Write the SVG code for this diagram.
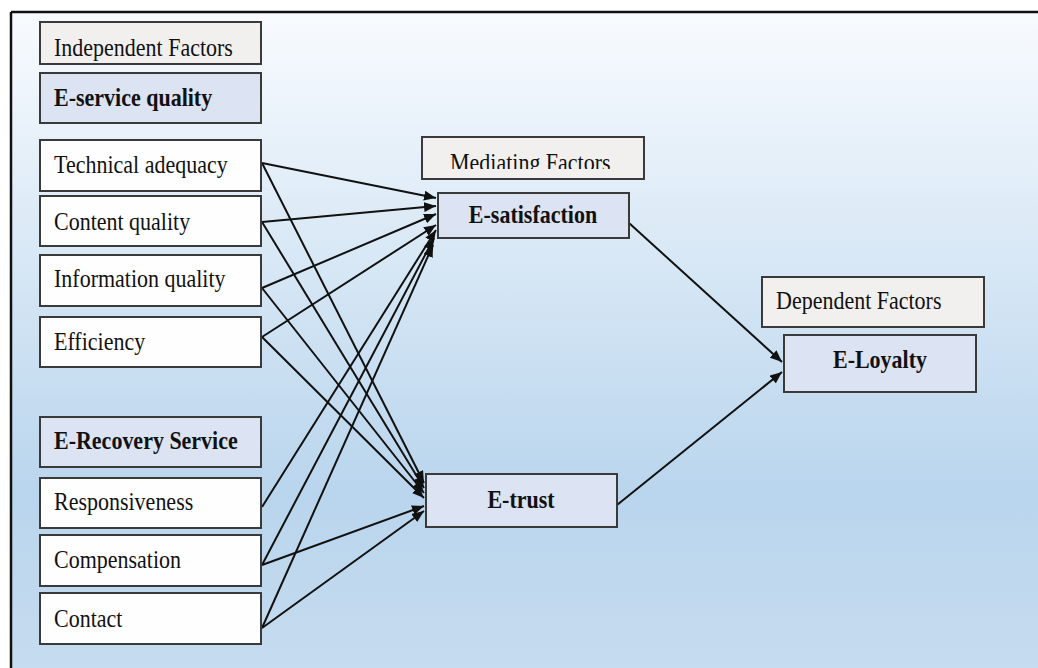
<svg xmlns="http://www.w3.org/2000/svg" width="1038" height="668" viewBox="0 0 1038 668">
<defs>
<linearGradient id="bg" x1="0" y1="0" x2="0" y2="1">
<stop offset="0" stop-color="#f8fbfe"/>
<stop offset="0.72" stop-color="#b9d5ed"/>
<stop offset="1" stop-color="#c7dcef"/>
</linearGradient>
<marker id="ah" viewBox="0 0 12 10" refX="12" refY="5" markerWidth="12" markerHeight="10" markerUnits="userSpaceOnUse" orient="auto">
<path d="M0,0 L12,5 L0,10 Z" fill="#111"/>
</marker>
<clipPath id="medclip"><rect x="422" y="137" width="222" height="32"/></clipPath>
</defs>
<style>
.box{stroke:#3a3a3a;stroke-width:2}
.hdr{fill:#f2f0ee}
.grp{fill:#dce3f2}
.item{fill:#fefefe}
.t{font-family:"Liberation Serif","Times New Roman",serif;font-size:22px;fill:#111}
.b{font-weight:bold}
.c{text-anchor:middle}
.ln{stroke:#111;stroke-width:2;fill:none;marker-end:url(#ah)}
</style>
<rect x="0" y="0" width="1038" height="668" fill="#ffffff"/>
<rect x="11" y="12" width="1040" height="670" fill="url(#bg)"/>
<line x1="11" y1="12" x2="1038" y2="12" stroke="#111" stroke-width="2.5"/>
<line x1="11" y1="12" x2="11" y2="668" stroke="#111" stroke-width="2.5"/>

<g id="connectors">
<line class="ln" x1="262" y1="163" x2="436" y2="198"/>
<line class="ln" x1="262" y1="222" x2="436" y2="206"/>
<line class="ln" x1="262" y1="288" x2="436" y2="214"/>
<line class="ln" x1="262" y1="337" x2="436" y2="225"/>
<line class="ln" x1="262" y1="507" x2="436" y2="230"/>
<line class="ln" x1="262" y1="565" x2="434" y2="238"/>
<line class="ln" x1="262" y1="628" x2="433" y2="245"/>
<line class="ln" x1="262" y1="163" x2="424" y2="483"/>
<line class="ln" x1="262" y1="222" x2="424" y2="488"/>
<line class="ln" x1="262" y1="288" x2="424" y2="493"/>
<line class="ln" x1="262" y1="337" x2="424" y2="498"/>
<line class="ln" x1="262" y1="565" x2="424" y2="506"/>
<line class="ln" x1="262" y1="628" x2="424" y2="511"/>
<line class="ln" x1="629" y1="223" x2="782" y2="362"/>
<line class="ln" x1="617" y1="505" x2="782" y2="372"/>
</g>

<g id="independent-factors"><rect class="box hdr" x="40" y="22" width="221" height="42"/><text class="t" transform="translate(54,56) scale(1,1.18)">Independent Factors</text></g>
<g id="e-service-quality"><rect class="box grp" x="40" y="73" width="221" height="50"/><text class="t b" transform="translate(54,106) scale(1,1.18)">E-service quality</text></g>
<g id="technical-adequacy"><rect class="box item" x="40" y="140" width="221" height="51"/><text class="t" transform="translate(54,173) scale(1,1.18)">Technical adequacy</text></g>
<g id="content-quality"><rect class="box item" x="40" y="196" width="221" height="50"/><text class="t" transform="translate(54,230) scale(1,1.18)">Content quality</text></g>
<g id="information-quality"><rect class="box item" x="40" y="255" width="221" height="51"/><text class="t" transform="translate(54,287) scale(1,1.18)">Information quality</text></g>
<g id="efficiency"><rect class="box item" x="40" y="317" width="221" height="50"/><text class="t" transform="translate(54,350) scale(1,1.18)">Efficiency</text></g>
<g id="e-recovery-service"><rect class="box grp" x="40" y="417" width="221" height="50"/><text class="t b" transform="translate(54,449) scale(1,1.18)">E-Recovery Service</text></g>
<g id="responsiveness"><rect class="box item" x="40" y="478" width="221" height="50"/><text class="t" transform="translate(54,510) scale(1,1.18)">Responsiveness</text></g>
<g id="compensation"><rect class="box item" x="40" y="535" width="221" height="51"/><text class="t" transform="translate(54,568) scale(1,1.18)">Compensation</text></g>
<g id="contact"><rect class="box item" x="40" y="593" width="221" height="51"/><text class="t" transform="translate(54,627) scale(1,1.18)">Contact</text></g>

<g id="mediating-factors"><rect class="box hdr" x="422" y="137" width="222" height="42"/><g clip-path="url(#medclip)"><text class="t" transform="translate(450,171) scale(1,1.18)">Mediating Factors</text></g></g>
<g id="e-satisfaction"><rect class="box grp" x="438" y="193" width="191" height="45"/><text class="t b c" transform="translate(533,223) scale(1,1.18)">E-satisfaction</text></g>
<g id="e-trust"><rect class="box grp" x="426" y="474" width="191" height="53"/><text class="t b c" transform="translate(521,508) scale(1,1.18)">E-trust</text></g>
<g id="dependent-factors"><rect class="box hdr" x="762" y="277" width="222" height="50"/><text class="t" transform="translate(776,309) scale(1,1.18)">Dependent Factors</text></g>
<g id="e-loyalty"><rect class="box grp" x="784" y="335" width="192" height="57"/><text class="t b c" transform="translate(880,368) scale(1,1.18)">E-Loyalty</text></g>
</svg>
